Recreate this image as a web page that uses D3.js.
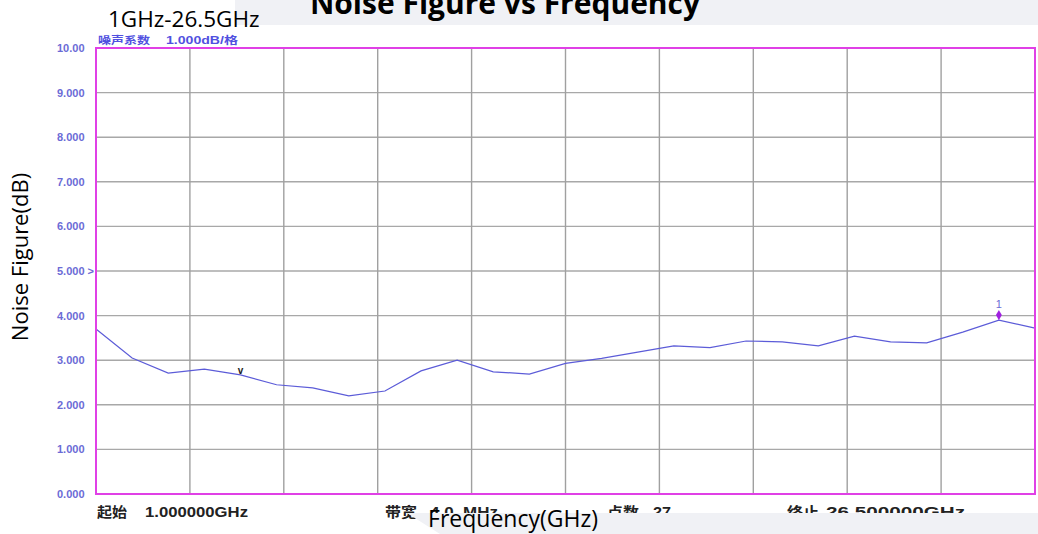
<!DOCTYPE html>
<html>
<head>
<meta charset="utf-8">
<style>
  body { margin: 0; background: #fff; }
  svg { display: block; }
</style>
</head>
<body>
<svg id="chart" width="1038" height="534"></svg>
<script src="https://d3js.org/d3.v7.min.js"></script>
<script>
// sweep points (GHz) and measured noise figure (dB)
var freqs = [1.000, 1.981, 2.962, 3.942, 4.923, 5.904, 6.885, 7.865, 8.846, 9.827,
             10.808, 11.788, 12.769, 13.750, 14.731, 15.712, 16.692, 17.673, 18.654,
             19.635, 20.615, 21.596, 22.577, 23.558, 24.538, 25.519, 26.500];
var nf = [3.70, 3.05, 2.71, 2.80, 2.67, 2.45, 2.38, 2.20, 2.31, 2.76,
          3.00, 2.74, 2.69, 2.93, 3.04, 3.18, 3.32, 3.28, 3.43,
          3.41, 3.32, 3.54, 3.41, 3.39, 3.63, 3.90, 3.72];
var yTicks = [0, 1, 2, 3, 4, 5, 6, 7, 8, 9, 10];
var yTickLabels = ["0.000", "1.000", "2.000", "3.000", "4.000", "5.000 >", "6.000", "7.000", "8.000", "9.000", "10.00"];
var xGrid = [3.55, 6.10, 8.65, 11.20, 13.75, 16.30, 18.85, 21.40, 23.95];
var footerLabels = ["起始", "带宽", "点数", "终止"];
var footerValues = ["1.000000GHz", "4.0  MHz", "27", "26.500000GHz"];
var headerTexts = ["噪声系数", "1.000dB/格"];
var marker1 = 25.519;   // marker "1"
var markerV = 4.923;    // "v" reference marker

var svg = d3.select("#chart");

var x = d3.scaleLinear().domain([1, 26.5]).range([96, 1035]);
var y = d3.scaleLinear().domain([0, 10]).range([494, 48]);

// grey slide background at top
svg.append("rect").attr("x", 235).attr("y", 0).attr("width", 803).attr("height", 25).attr("fill", "#f0f1f5");

// horizontal grid
svg.append("g").selectAll("line").data(yTicks.slice(1, -1)).enter().append("line")
    .attr("x1", x(1)).attr("x2", x(26.5))
    .attr("y1", function(d) { return y(d); }).attr("y2", function(d) { return y(d); })
    .attr("stroke", "#a8a8a8").attr("stroke-width", 1.4);

// vertical grid
svg.append("g").selectAll("line").data(xGrid).enter().append("line")
    .attr("x1", function(d) { return x(d); }).attr("x2", function(d) { return x(d); })
    .attr("y1", y(10)).attr("y2", y(0))
    .attr("stroke", "#a0a0a0").attr("stroke-width", 1.4);

// y tick labels
svg.append("g").selectAll("text").data(yTicks).enter().append("text")
    .attr("x", 57)
    .attr("y", function(d) { return y(d) + 4; })
    .attr("font-family", "Liberation Sans, Arial, sans-serif")
    .attr("font-size", 11).attr("font-weight", "bold")
    .attr("fill", "#6b6bd6")
    .text(function(d, i) { return yTickLabels[i]; });

// trace
var line = d3.line()
    .x(function(d) { return x(d[0]); })
    .y(function(d) { return y(d[1]); });

svg.append("path")
    .datum(d3.zip(freqs, nf))
    .attr("d", line)
    .attr("fill", "none")
    .attr("stroke", "#5c5cd8")
    .attr("stroke-width", 1.2);

// plot border
svg.append("rect")
    .attr("x", x(1)).attr("y", y(10))
    .attr("width", x(26.5) - x(1)).attr("height", y(0) - y(10))
    .attr("fill", "none").attr("stroke", "#e040e6").attr("stroke-width", 2);

// marker 1
var m1 = nf[freqs.indexOf(marker1)];
svg.append("path")
    .attr("d", d3.symbol().type(d3.symbolDiamond).size(30)())
    .attr("transform", "translate(" + x(marker1) + "," + (y(m1) - 5) + ")")
    .attr("fill", "#a020e0");
svg.append("text")
    .attr("x", x(marker1)).attr("y", y(m1) - 12)
    .attr("text-anchor", "middle")
    .attr("font-family", "Liberation Sans, Arial, sans-serif")
    .attr("font-size", 11).attr("fill", "#6b6bd6")
    .text("1");

// v marker
svg.append("text")
    .attr("x", x(markerV)).attr("y", y(nf[freqs.indexOf(markerV)]) - 1)
    .attr("text-anchor", "middle")
    .attr("font-family", "Liberation Sans, Arial, sans-serif")
    .attr("font-size", 10).attr("font-weight", "bold").attr("fill", "#222")
    .text("v");

// header inside the analyser screen (screenshot is stretched horizontally)
var headerX = [98, 166], headerW = [52, 72];
svg.append("g").selectAll("text").data(headerTexts).enter().append("text")
    .attr("x", function(d, i) { return headerX[i]; })
    .attr("y", 44)
    .attr("textLength", function(d, i) { return headerW[i]; })
    .attr("lengthAdjust", "spacingAndGlyphs")
    .attr("font-family", "Liberation Sans, Noto Sans CJK SC, sans-serif")
    .attr("font-size", 10.5).attr("font-weight", "bold")
    .attr("fill", "#5050e0")
    .text(function(d) { return d; });

// footer of analyser screen
var labelX = [97, 385, 607, 787], labelW = [30, 32, 32, 32];
var valueX = [145, 430, 653, 826], valueW = [103, 68, 18, 139];
svg.append("g").selectAll("text").data(footerLabels).enter().append("text")
    .attr("x", function(d, i) { return labelX[i]; })
    .attr("y", 517)
    .attr("textLength", function(d, i) { return labelW[i]; })
    .attr("lengthAdjust", "spacingAndGlyphs")
    .attr("font-family", "Noto Sans CJK SC, sans-serif")
    .attr("font-size", 14).attr("font-weight", "bold")
    .attr("fill", "#222")
    .text(function(d) { return d; });
svg.append("g").selectAll("text").data(footerValues).enter().append("text")
    .attr("x", function(d, i) { return valueX[i]; })
    .attr("y", 517)
    .attr("textLength", function(d, i) { return valueW[i]; })
    .attr("lengthAdjust", "spacingAndGlyphs")
    .attr("xml:space", "preserve")
    .attr("font-family", "Liberation Sans, Arial, sans-serif")
    .attr("font-size", 15).attr("font-weight", "bold")
    .attr("fill", "#222")
    .text(function(d) { return d; });

// grey band covering bottom of the screenshot
svg.append("path")
    .attr("d", "M407,513 L1038,513 L1038,534 L440,534 Z")
    .attr("fill", "#f0f1f5");

// slide texts
svg.append("text")
    .attr("x", 505).attr("y", 14)
    .attr("text-anchor", "middle")
    .attr("font-family", "Open Sans, sans-serif")
    .attr("font-size", 30).attr("font-weight", "bold")
    .attr("fill", "#000")
    .text("Noise Figure vs Frequency");

svg.append("text")
    .attr("x", 108).attr("y", 27)
    .attr("font-family", "Open Sans, sans-serif")
    .attr("font-size", 22.5)
    .attr("fill", "#000")
    .text("1GHz-26.5GHz");

svg.append("text")
    .attr("x", 513).attr("y", 527)
    .attr("text-anchor", "middle")
    .attr("font-family", "Open Sans, sans-serif")
    .attr("font-size", 23)
    .attr("fill", "#000")
    .text("Frequency(GHz)");

svg.append("text")
    .attr("transform", "translate(28,257) rotate(-90)")
    .attr("text-anchor", "middle")
    .attr("font-family", "Open Sans, sans-serif")
    .attr("font-size", 22)
    .attr("fill", "#000")
    .text("Noise Figure(dB)");
</script>
</body>
</html>
